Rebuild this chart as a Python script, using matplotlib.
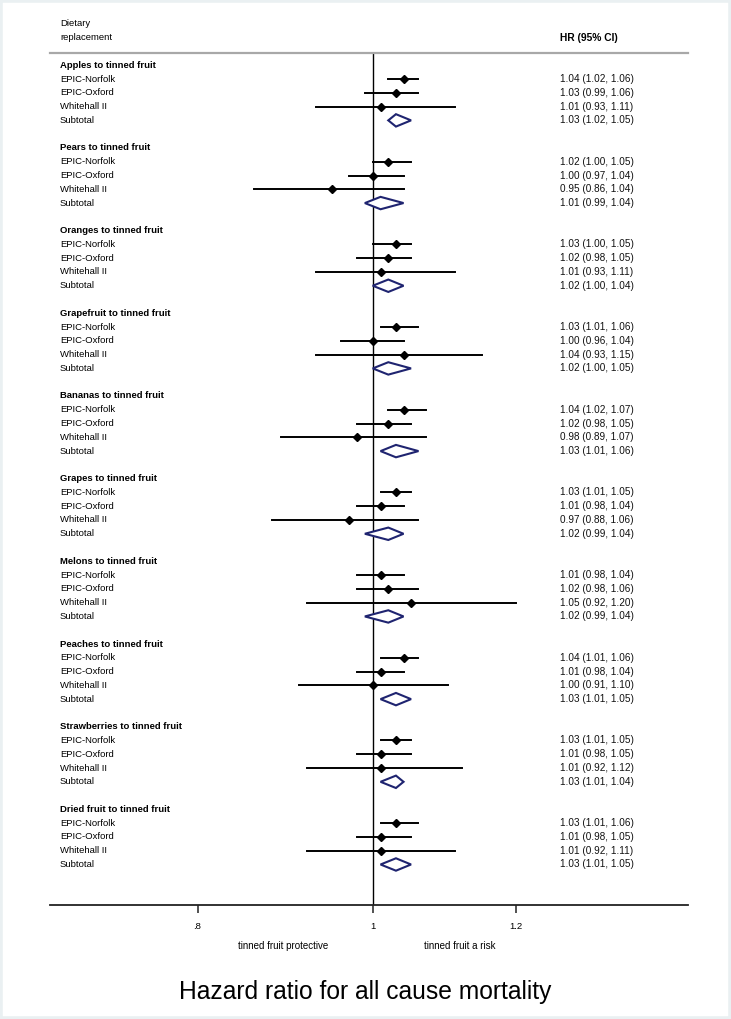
import matplotlib
matplotlib.use("Agg")
import matplotlib.pyplot as plt
import numpy as np
from matplotlib.patches import Polygon

plt.rcParams['font.family'] = ['Liberation Sans', 'DejaVu Sans']

# data
groups = ["Apples", "Pears", "Oranges", "Grapefruit", "Bananas",
          "Grapes", "Melons", "Peaches", "Strawberries", "Dried fruit"]
studies = ["EPIC-Norfolk", "EPIC-Oxford", "Whitehall II", "Subtotal"]

hr = [[1.04, 1.03, 1.01, 1.03],
      [1.02, 1.00, 0.95, 1.01],
      [1.03, 1.02, 1.01, 1.02],
      [1.03, 1.00, 1.04, 1.02],
      [1.04, 1.02, 0.98, 1.03],
      [1.03, 1.01, 0.97, 1.02],
      [1.01, 1.02, 1.05, 1.02],
      [1.04, 1.01, 1.00, 1.03],
      [1.03, 1.01, 1.01, 1.03],
      [1.03, 1.01, 1.01, 1.03]]
lo = [[1.02, 0.99, 0.93, 1.02],
      [1.00, 0.97, 0.86, 0.99],
      [1.00, 0.98, 0.93, 1.00],
      [1.01, 0.96, 0.93, 1.00],
      [1.02, 0.98, 0.89, 1.01],
      [1.01, 0.98, 0.88, 0.99],
      [0.98, 0.98, 0.92, 0.99],
      [1.01, 0.98, 0.91, 1.01],
      [1.01, 0.98, 0.92, 1.01],
      [1.01, 0.98, 0.92, 1.01]]
hi = [[1.06, 1.06, 1.11, 1.05],
      [1.05, 1.04, 1.04, 1.04],
      [1.05, 1.05, 1.11, 1.04],
      [1.06, 1.04, 1.15, 1.05],
      [1.07, 1.05, 1.07, 1.06],
      [1.05, 1.04, 1.06, 1.04],
      [1.04, 1.06, 1.20, 1.04],
      [1.06, 1.04, 1.10, 1.05],
      [1.05, 1.05, 1.12, 1.04],
      [1.06, 1.05, 1.11, 1.05]]

xticks = [0.8, 1.0, 1.2]
xticklabels = [".8", "1", "1.2"]

W, H = 731, 1019
fig = plt.figure(figsize=(W / 100, H / 100), dpi=100)
fig.patch.set_facecolor('white')

# axes area in pixels: x 50..688, y 53..905
ax = fig.add_axes([50 / W, 1 - 905 / H, (688 - 50) / W, (905 - 53) / H])
ax.set_xscale('log')
ax.set_xlim(0.663, 1.494)
ax.set_ylim(60.94, -0.89)
ax.patch.set_alpha(0)

for s in ['left', 'right']:
    ax.spines[s].set_visible(False)
ax.spines['top'].set_color('#a8a8a8')
ax.spines['top'].set_linewidth(1.6)
ax.spines['bottom'].set_color('#222222')
ax.spines['bottom'].set_linewidth(1.3)

ax.set_yticks([])
ax.set_xticks(xticks)
ax.set_xticklabels(xticklabels, fontsize=6.8)
ax.xaxis.set_minor_locator(matplotlib.ticker.NullLocator())
ax.tick_params(axis='x', direction='out', length=6, width=1.1, pad=6, color='#222222')

ax.axvline(1.0, color='black', lw=1.0, zorder=1)

tr = matplotlib.transforms.blended_transform_factory(fig.transFigure, ax.transData)
xl = 60 / W
xv = 560 / W

navy = '#1f2470'
for g, name in enumerate(groups):
    r0 = 6 * g
    ax.text(xl, r0, name + " to tinned fruit", transform=tr, fontsize=6.8,
            fontweight='bold', va='center', ha='left')
    for k, st in enumerate(studies):
        r = r0 + 1 + k
        ax.text(xl, r, st, transform=tr, fontsize=6.8, va='center', ha='left')
        ax.text(xv, r, "%.2f (%.2f, %.2f)" % (hr[g][k], lo[g][k], hi[g][k]),
                transform=tr, fontsize=7.2, va='center', ha='left', color='#111111')
        if st == "Subtotal":
            d = Polygon([[lo[g][k], r], [hr[g][k], r - 0.45], [hi[g][k], r],
                         [hr[g][k], r + 0.45]], closed=True, facecolor='white',
                        edgecolor=navy, lw=1.5, zorder=3)
            ax.add_patch(d)
        else:
            ax.plot([lo[g][k], hi[g][k]], [r, r], color='black', lw=1.4, zorder=2)
            ax.plot([hr[g][k]], [r], marker='D', color='black', ms=4.2, zorder=3)

# header
fig.text(xl, 1 - 23 / H, "Dietary", fontsize=6.8, va='center', ha='left')
fig.text(xl, 1 - 38 / H, "replacement", fontsize=6.8, va='center', ha='left')
fig.text(xv, 1 - 38 / H, "HR (95% CI)", fontsize=7.4, fontweight='bold', va='center', ha='left')

fig.text(283 / W, 1 - 946 / H, "tinned fruit protective", fontsize=7.0, ha='center', va='center')
fig.text(460 / W, 1 - 946 / H, "tinned fruit a risk", fontsize=7.0, ha='center', va='center')

fig.text(365 / W, 1 - 992 / H, "Hazard ratio for all cause mortality", fontsize=17.7,
         ha='center', va='center')

# light frame around the figure
fig.patches.append(matplotlib.patches.Rectangle((0, 0), 1, 1, transform=fig.transFigure,
                                                fill=False, edgecolor='#eaf0f2', lw=4))

plt.savefig("out.png", dpi=100)
